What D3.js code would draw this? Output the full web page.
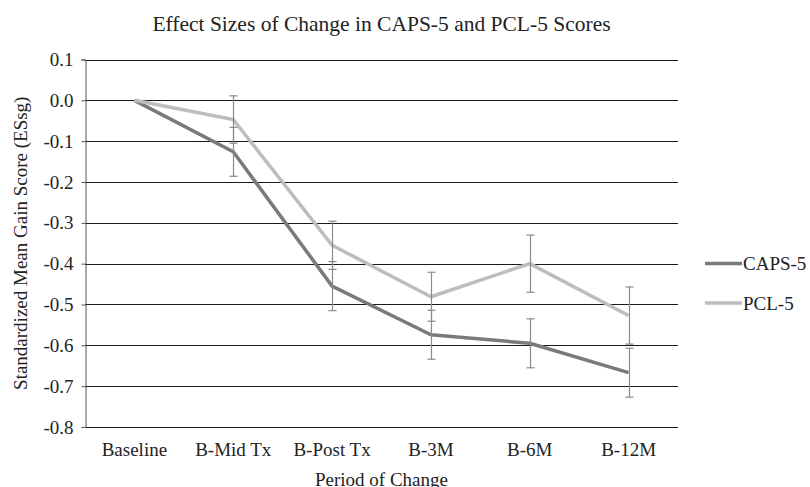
<!DOCTYPE html>
<html>
<head>
<meta charset="utf-8">
<script src="https://cdn.jsdelivr.net/npm/d3@7"></script>
<style>
body { margin: 0; background: #fff; }
text { font-family: "Liberation Serif", "Times New Roman", serif; fill: #222; }
</style>
</head>
<body>
<svg width="810" height="487"></svg>
<script>
var periods = ["Baseline", "B-Mid Tx", "B-Post Tx", "B-3M", "B-6M", "B-12M"];
var capsValues = [0, -0.126, -0.455, -0.574, -0.595, -0.667];
var capsErrors = [0, 0.06, 0.06, 0.06, 0.06, 0.06];
var pclValues = [0, -0.047, -0.355, -0.481, -0.400, -0.527];
var pclErrors = [0, 0.058, 0.059, 0.06, 0.07, 0.07];
var yTicks = [0.1, 0.0, -0.1, -0.2, -0.3, -0.4, -0.5, -0.6, -0.7, -0.8];

var series = [
    { name: "CAPS-5", values: capsValues, errors: capsErrors, color: "#7a7a7a" },
    { name: "PCL-5", values: pclValues, errors: pclErrors, color: "#bdbdbd" }
];

var svg = d3.select("svg");
var plotLeft = 85, plotRight = 678, plotTop = 59.5, plotBottom = 427;

var x = d3.scaleBand().domain(periods).range([plotLeft, plotRight]);
var y = d3.scaleLinear().domain([-0.8, 0.1]).range([plotBottom, plotTop]);

// title
svg.append("text")
    .attr("x", (plotLeft + plotRight) / 2)
    .attr("y", 31)
    .attr("text-anchor", "middle")
    .style("font-size", "21.5px")
    .text("Effect Sizes of Change in CAPS-5 and PCL-5 Scores");

// gridlines
svg.append("g")
    .selectAll("line")
    .data(yTicks)
    .enter()
    .append("line")
    .attr("x1", plotLeft)
    .attr("x2", plotRight)
    .attr("y1", function(d) { return Math.round(y(d)) + 0.5; })
    .attr("y2", function(d) { return Math.round(y(d)) + 0.5; })
    .style("stroke", "#1a1a1a")
    .style("stroke-width", 1);

// y axis
var yAxis = svg.append("g")
    .attr("transform", "translate(" + (plotLeft + 0.5) + ",0)")
    .call(d3.axisLeft(y).tickValues(yTicks).tickSize(4).tickPadding(8));
yAxis.select(".domain").style("stroke", "#555");
yAxis.selectAll(".tick line").style("stroke", "#555");
yAxis.selectAll("text")
    .style("font-size", "19px")
    .style("font-family", "Liberation Serif, serif")
    .attr("fill", "#222")
    .text(function(d) { return d3.format(".1f")(d).replace("−", "-"); });

// x labels
svg.append("g")
    .selectAll("text")
    .data(periods)
    .enter()
    .append("text")
    .attr("x", function(d) { return x(d) + x.bandwidth() / 2; })
    .attr("y", 456)
    .attr("text-anchor", "middle")
    .style("font-size", "19px")
    .text(function(d) { return d; });

svg.append("text")
    .attr("x", (plotLeft + plotRight) / 2)
    .attr("y", 486)
    .attr("text-anchor", "middle")
    .style("font-size", "19px")
    .text("Period of Change");

svg.append("text")
    .attr("transform", "translate(27," + ((plotTop + plotBottom) / 2) + ") rotate(-90)")
    .attr("text-anchor", "middle")
    .style("font-size", "19px")
    .text("Standardized Mean Gain Score (ESsg)");

// lines
var line = d3.line()
    .x(function(d, i) { return x(periods[i]) + x.bandwidth() / 2; })
    .y(function(d) { return y(d); });

series.forEach(function(s) {
    svg.append("path")
        .datum(s.values)
        .attr("d", line)
        .style("fill", "none")
        .style("stroke", s.color)
        .style("stroke-width", 3.5)
        .style("stroke-linejoin", "round");
});

// error bars
series.forEach(function(s) {
    var g = svg.append("g");
    s.values.forEach(function(v, i) {
        if (s.errors[i] == 0) return;
        var cx = Math.round(x(periods[i]) + x.bandwidth() / 2) + 0.5;
        var y1 = y(v + s.errors[i]), y2 = y(v - s.errors[i]);
        g.append("line").attr("x1", cx).attr("x2", cx).attr("y1", y1).attr("y2", y2)
            .style("stroke", "#8a8a8a").style("stroke-width", 1.2);
        [y1, y2].forEach(function(yy) {
            g.append("line").attr("x1", cx - 4).attr("x2", cx + 4).attr("y1", yy).attr("y2", yy)
                .style("stroke", "#8a8a8a").style("stroke-width", 1.2);
        });
    });
});

// legend
var legend = svg.append("g")
    .selectAll("g")
    .data(series)
    .enter()
    .append("g")
    .attr("transform", function(d, i) { return "translate(705," + (263.5 + i * 39.5) + ")"; });
legend.append("line")
    .attr("x1", 0).attr("x2", 37)
    .style("stroke", function(d) { return d.color; })
    .style("stroke-width", 3.5);
legend.append("text")
    .attr("x", 38)
    .attr("y", 6.5)
    .style("font-size", "19px")
    .text(function(d) { return d.name; });
</script>
</body>
</html>
